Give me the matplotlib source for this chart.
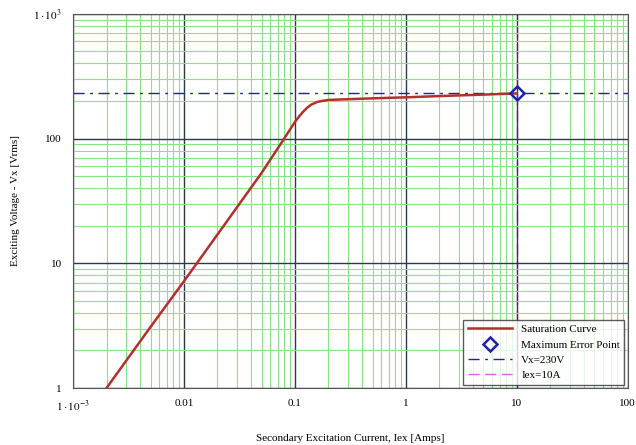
import numpy as np
import matplotlib
matplotlib.use("Agg")
import matplotlib.pyplot as plt
from matplotlib.ticker import FixedLocator, NullFormatter

plt.rcParams['font.family'] = ['Liberation Serif', 'DejaVu Serif']
plt.rcParams['mathtext.fontset'] = 'stix'

# Curva de saturacion
iex = [0.002, 0.005, 0.01, 0.02, 0.05, 0.08, 0.1, 0.11, 0.12, 0.13, 0.14,
       0.16, 0.18, 0.2, 0.5, 1, 2, 5, 10]
vx = [1.0, 3.1, 7.2, 17, 53, 100, 136, 152, 166, 178, 187,
      197, 201, 204, 210, 214, 219, 225, 230]

# Punto de error maximo
max_err_i = 10
max_err_v = 230

xticks = [1e-3, 0.01, 0.1, 1, 10, 100]
xlabels = [r'$1\cdot10^{-3}$', '0.01', '0.1', '1', '10', '100']
yticks = [1, 10, 100, 1000]
ylabels = ['1', '10', '100', r'$1\cdot10^{3}$']

fig = plt.figure(figsize=(6.36, 4.45), dpi=100)
ax = fig.add_axes([0.115, 0.128, 0.872, 0.841])
ax.set_xscale('log')
ax.set_yscale('log')
ax.set_xlim(1e-3, 100)
ax.set_ylim(1, 1000)

# Rejilla
minors = [m * 10.0 ** e for e in range(-3, 3) for m in range(2, 10)]
ax.xaxis.set_minor_locator(FixedLocator(minors))
ax.yaxis.set_minor_locator(FixedLocator(minors))
ax.xaxis.set_minor_formatter(NullFormatter())
ax.yaxis.set_minor_formatter(NullFormatter())
ax.grid(which='minor', color='#86e486', linewidth=0.8)
ax.grid(which='major', color='#2a3a4a', linewidth=1.0)

ax.plot(iex, vx, color='#b4302a', linewidth=1.8, label='Saturation Curve', zorder=3)
ax.plot([max_err_i], [max_err_v], linestyle='none', marker='D', markersize=7,
        markerfacecolor='none', markeredgecolor='#2020b0', markeredgewidth=1.8,
        label='Maximum Error Point', zorder=4)
ax.axhline(max_err_v, color='#1a2a80', linestyle=(0, (8, 4, 2, 4)), linewidth=1.0,
           label='Vx=230V', zorder=2)
ax.axvline(max_err_i, color='#e060e0', linestyle=(0, (8, 4)), linewidth=1.0,
           label='Iex=10A', zorder=0.5)

ax.set_xticks(xticks)
ax.set_xticklabels(xlabels)
ax.set_yticks(yticks)
ax.set_yticklabels(ylabels)
ax.tick_params(which='both', length=0, labelsize=8, pad=8)
for s in ax.spines.values():
    s.set_color('#555555')

ax.set_xlabel('Secondary Excitation Current, Iex [Amps]', fontsize=8, labelpad=14)
ax.set_ylabel('Exciting Voltage - Vx [Vrms]', fontsize=8, labelpad=10)

leg = ax.legend(loc='lower right', fontsize=8, frameon=True, fancybox=False,
                borderaxespad=0.3, handlelength=4)
leg.get_frame().set_edgecolor('#333333')
leg.get_frame().set_linewidth(1.0)

fig.savefig('out.png', dpi=100)
